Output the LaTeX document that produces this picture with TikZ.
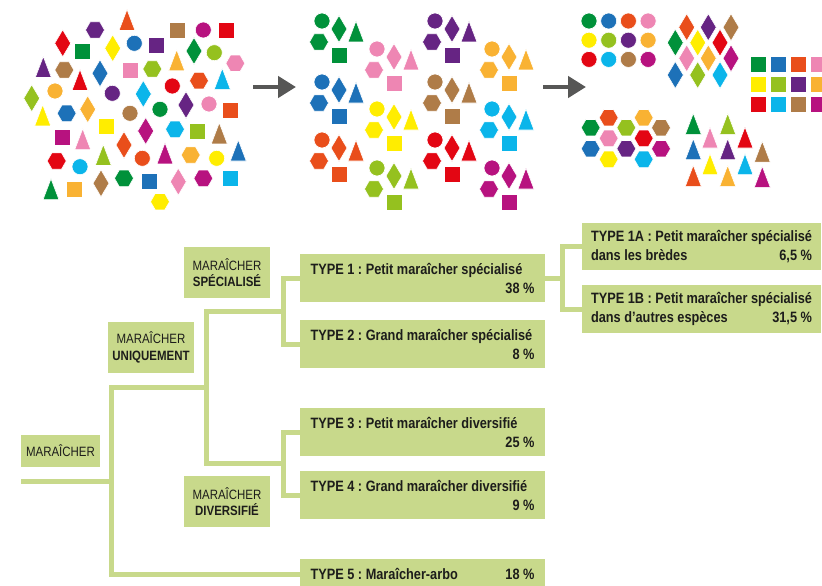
\documentclass[tikz,border=0pt]{standalone}
\usepackage{fontspec}
\setmainfont{Liberation Sans}[FakeStretch=0.85]
\usepackage{tikz}
\usetikzlibrary{arrows.meta}
\hyphenpenalty=10000
\frenchspacing

\definecolor{cgreen}{HTML}{00913A}
\definecolor{cblue}{HTML}{1D71B8}
\definecolor{corange}{HTML}{E94E1B}
\definecolor{cpink}{HTML}{EE86B3}
\definecolor{cyellow}{HTML}{FFED00}
\definecolor{clime}{HTML}{95C11F}
\definecolor{cpurple}{HTML}{662483}
\definecolor{cgold}{HTML}{F9B233}
\definecolor{cred}{HTML}{E30613}
\definecolor{ccyan}{HTML}{0BB5EA}
\definecolor{cbrown}{HTML}{AF7C48}
\definecolor{cmagenta}{HTML}{B7127F}
\definecolor{boxgreen}{HTML}{C8D98B}
\definecolor{arrowgray}{HTML}{575756}
\definecolor{txt}{HTML}{1D1D1B}

\tikzset{shp/.style={draw=white, line width=0.6pt}}
\newcommand{\shpcirc}[3]{\fill[#1,shp] (#2,#3) circle (8pt);}
\newcommand{\shpsq}[3]{\fill[#1,shp] (#2,#3) ++(-8,-8) rectangle ++(16,16);}
\newcommand{\shpdiam}[3]{\fill[#1,shp] (#2,#3) ++(0,-13.5) -- ++(8,13.5) -- ++(-8,13.5) -- ++(-8,-13.5) -- cycle;}
\newcommand{\shptri}[3]{\fill[#1,shp] (#2,#3) ++(0,-10.5) -- ++(8,21) -- ++(-16,0) -- cycle;}
\newcommand{\shphex}[3]{\fill[#1,shp] (#2,#3) ++(-9.5,0) -- ++(4.75,-8.25) -- ++(9.5,0) -- ++(4.75,8.25) -- ++(-4.75,8.25) -- ++(-9.5,0) -- cycle;}
\newcommand{\shpgroup}[3]{%
  \shphex{#1}{#2-3}{#3+21}\shpcirc{#1}{#2}{#3}\shpsq{#1}{#2+17}{#3+34}%
  \shpdiam{#1}{#2+17}{#3+8}\shptri{#1}{#2+34}{#3+10.5}}
\newcommand{\pushright}{\hspace*{0pt plus 1filll}}

\begin{document}
\begin{tikzpicture}[x=1pt,y=-1pt,
    catbox/.style={fill=boxgreen, text=txt, align=center, inner sep=0pt,
      minimum width=86pt, minimum height=51pt, font=\fontsize{13.5}{16.5}\selectfont},
    typebox/.style={fill=boxgreen, text=txt, align=flush left, text width=224pt,
      inner xsep=10.5pt, inner ysep=0pt, minimum height=48pt,
      font=\bfseries\fontsize{15}{19}\selectfont},
    branch/.style={boxgreen, line width=5pt},
    flow/.style={arrowgray, line width=4.5pt, -{Triangle[length=18pt,width=21pt]}}]
  \useasboundingbox (0,0) rectangle (822,586);
  \clip (0,0) rectangle (822,586);

  % melange de depart
  \foreach \col/\px/\py in {cmagenta/203.3/30, cblue/134.3/43.3, clime/214.3/52.7, cgold/55/91,
      cpurple/112.3/93.3, cred/172.3/86, cbrown/130/113.3, cgreen/160/109.3, cpink/209/104,
      ccyan/80/166.7, corange/142.3/158.3, cyellow/216.7/158.3}
    \shpcirc{\col}{\px}{\py};
  \foreach \col/\px/\py in {cbrown/177.7/30, cred/226.7/30, cgreen/82.7/51.7, cpurple/156.7/45.7,
      cpink/130/70.7, corange/230/110, cmagenta/62.7/137.7, cyellow/106.7/126.7, clime/197.7/131,
      cgold/74/189, cblue/149/181.7, ccyan/230/178.3}
    \shpsq{\col}{\px}{\py};
  \foreach \col/\px/\py in {cred/62.7/43.3, cyellow/112.7/48.3, cgreen/194/51, cblue/100/73.3,
      clime/31.7/98.3, ccyan/143.3/94, cgold/87.7/109.3, cpurple/186/105, cmagenta/145.7/131,
      corange/124/145, cbrown/101/183.3, cpink/178.3/181.7}
    \shpdiam{\col}{\px}{\py};
  \foreach \col/\px/\py in {corange/127/20, cpurple/43.3/67, cred/80/80, cgold/176.7/60.3,
      ccyan/222.3/78.8, cyellow/42.7/115.3, cpink/82.7/139.2, cbrown/219.3/133.3, clime/103.3/155,
      cmagenta/165/153.3, cblue/238.3/150.5, cgreen/51/189.2}
    \shptri{\col}{\px}{\py};
  \foreach \col/\px/\py in {cpurple/95/30, cbrown/64.3/70, clime/152.3/69, cpink/235.3/63.3,
      corange/199/80.7, cblue/66.7/113.3, ccyan/175/129.3, cred/56.7/161, cgold/190.7/155,
      cgreen/124/178.3, cmagenta/203.3/178.3, cyellow/160/201.7}
    \shphex{\col}{\px}{\py};

  % tri par couleur
  \foreach \col/\px/\py in {cgreen/322/21, cblue/322/82, corange/322/140, cpink/377/49,
      cyellow/377/109, clime/377/168, cpurple/435/21, cbrown/435/82, cred/435/140,
      cgold/492/49, ccyan/492/109, cmagenta/492/168}
    \shpgroup{\col}{\px}{\py};

  % tri par forme
  \foreach \col [count=\i from 0] in {cgreen,cblue,corange,cpink,cyellow,clime,cpurple,cgold,cred,ccyan,cbrown,cmagenta} {
    \pgfmathsetmacro{\gx}{589+19.7*mod(\i,4)}
    \pgfmathsetmacro{\gy}{21+19.2*floor(\i/4)}
    \shpcirc{\col}{\gx}{\gy}
    \pgfmathsetmacro{\gx}{758+20*mod(\i,4)}
    \pgfmathsetmacro{\gy}{64+20.3*floor(\i/4)}
    \shpsq{\col}{\gx}{\gy}
  }
  \foreach \col/\px/\py in {corange/686.7/27.3, cpurple/708.3/27.3, cbrown/731/27.3,
      cgreen/675.3/42.7, cyellow/697.7/42.7, cred/720/42.7,
      cpink/686.7/58.3, cgold/708.3/58.3, cmagenta/731/58.3,
      cblue/675.3/75, clime/697.7/75, ccyan/720/75}
    \shpdiam{\col}{\px}{\py};
  \foreach \col/\px/\py in {cgreen/590.7/127.7, corange/608.7/117.7, clime/626.3/127.7,
      cgold/643.7/117.7, cbrown/661/127.7, cpink/608.7/138.3, cred/643.7/138.3,
      cblue/590.7/148.7, cpurple/626.3/148.7, cmagenta/661/148.7, cyellow/608.7/159.3, ccyan/643.7/159.3}
    \shphex{\col}{\px}{\py};
  \foreach \col/\px/\py in {cgreen/693.3/123.9, clime/727.7/123.9, cpink/710/137.5, cred/745/137.5,
      cblue/693.3/149.2, cpurple/727.7/149.2, cbrown/762.3/151.7, cyellow/710/164.2,
      ccyan/745/164.2, corange/693.3/175.9, cgold/727.7/175.9, cmagenta/762.3/176.9}
    \shptri{\col}{\px}{\py};

  \coordinate (a1) at (253,87);
  \coordinate (a2) at (296,87);
  \coordinate (b1) at (543,87);
  \coordinate (b2) at (586,87);
  \draw[flow] (a1) -- (a2);
  \draw[flow] (b1) -- (b2);

  % arbre
  \node[catbox, minimum width=79pt, minimum height=32pt] (mar) at (60.5,451) {MARAÎCHER};
  \node[catbox] (uniq) at (151,347.5) {MARAÎCHER\\\textbf{UNIQUEMENT}};
  \node[catbox] (spec) at (227,272.5) {MARAÎCHER\\\textbf{SPÉCIALISÉ}};
  \node[catbox] (div) at (227,501.5) {MARAÎCHER\\\textbf{DIVERSIFIÉ}};

  \node[typebox] (type1) at (422.5,278) {TYPE 1 : Petit maraîcher spécialisé\\\pushright 38 \%};
  \node[typebox] (type2) at (422.5,344) {TYPE 2 : Grand maraîcher spécialisé\\\pushright 8 \%};
  \node[typebox] (type3) at (422.5,432) {TYPE 3 : Petit maraîcher diversifié\\\pushright 25 \%};
  \node[typebox] (type4) at (422.5,495) {TYPE 4 : Grand maraîcher diversifié\\\pushright 9 \%};
  \node[typebox, minimum height=30pt] (type5) at (422.5,574) {TYPE 5 : Maraîcher-arbo\pushright 18 \%};
  \node[typebox, text width=221pt, inner xsep=9pt, minimum height=47pt] (type1a) at (701.5,246.5)
    {TYPE 1A : Petit maraîcher spécialisé\\dans les brèdes\pushright 6,5 \%};
  \node[typebox, text width=221pt, inner xsep=9pt] (type1b) at (701.5,309)
    {TYPE 1B : Petit maraîcher spécialisé\\dans d’autres espèces\pushright 31,5 \%};

  \coordinate (root) at (21,481);
  \coordinate (k1) at (111,481);
  \coordinate (k2) at (206,387);
  \coordinate (k3) at (283,311);
  \coordinate (k4) at (283,463);
  \coordinate (k5) at (562,278);

  \draw[branch] (root) -- (k1);
  \draw[branch] (k1) |- (k2);
  \draw[branch] (k1) |- (type5.west);
  \draw[branch] (k2) |- (k3);
  \draw[branch] (k2) |- (k4);
  \draw[branch] (k3) |- (type1.west);
  \draw[branch] (k3) |- (type2.west);
  \draw[branch] (k4) |- (type3.west);
  \draw[branch] (k4) |- (type4.west);
  \draw[branch] (type1.east) -- (k5);
  \draw[branch] (k5) |- (type1a.west);
  \draw[branch] (k5) |- (type1b.west);
\end{tikzpicture}
\end{document}
